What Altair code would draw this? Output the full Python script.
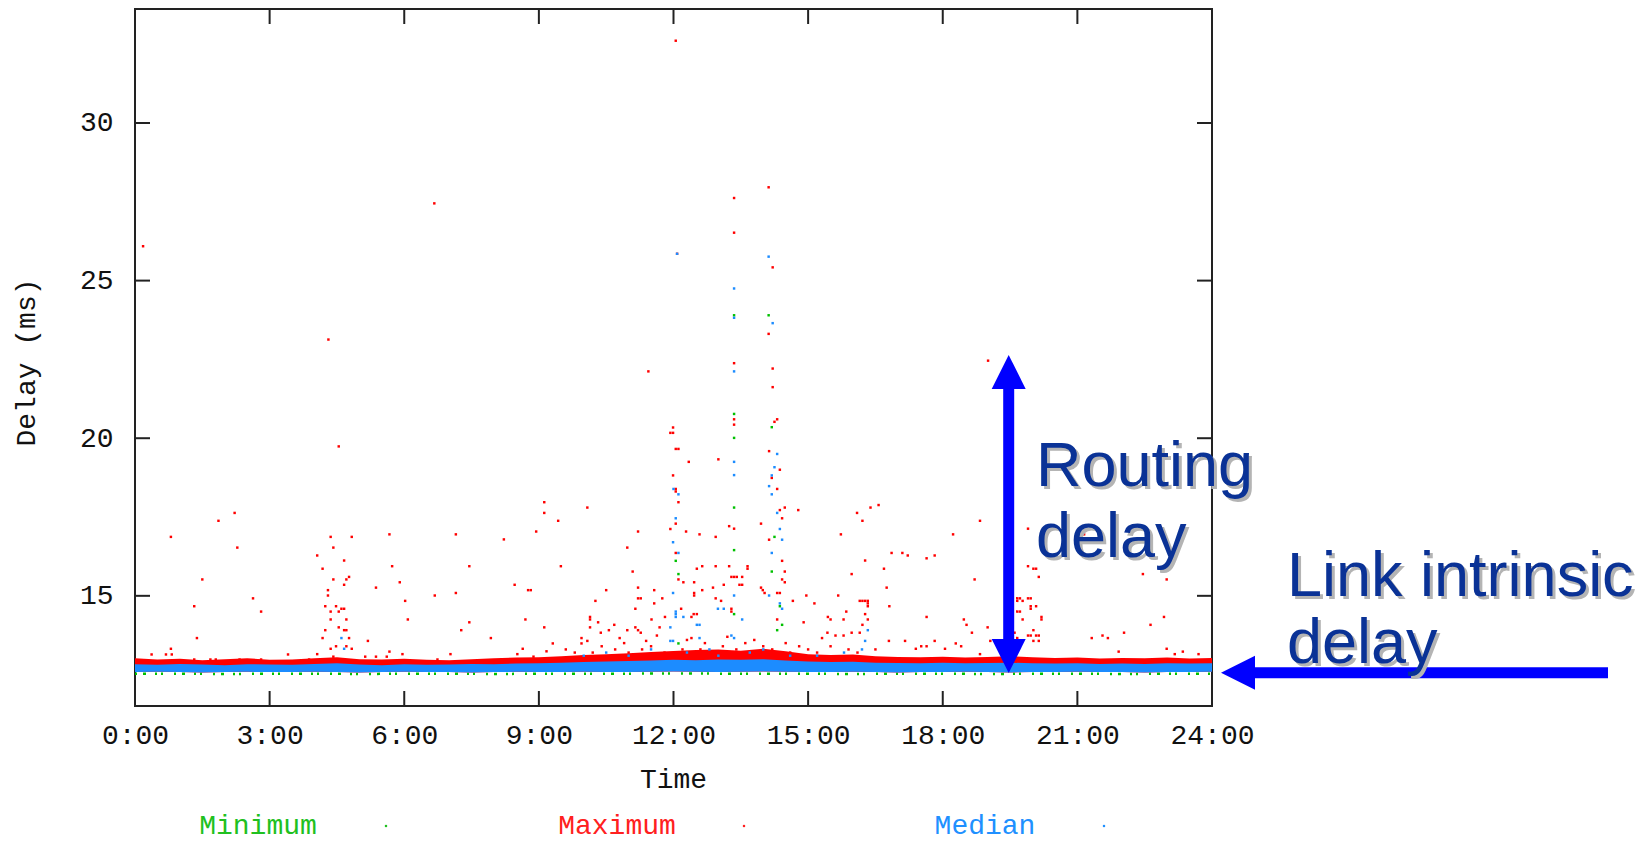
import altair as alt
import pandas as pd

# ---------------- axis ticks / labels ----------------
x_tick_hours = [0, 3, 6, 9, 12, 15, 18, 21, 24]
x_inner_ticks = [3, 6, 9, 12, 15, 18, 21]
y_tick_values = [15, 20, 25, 30]

# ---------------- dense baseline band (read every 30 min) ----------------
band_hours = [0.0, 0.5, 1.0, 1.5, 2.0, 2.5, 3.0, 3.5, 4.0, 4.5, 5.0, 5.5, 6.0, 6.5,
              7.0, 7.5, 8.0, 8.5, 9.0, 9.5, 10.0, 10.5, 11.0, 11.5, 12.0, 12.5,
              13.0, 13.5, 14.0, 14.5, 15.0, 15.5, 16.0, 16.5, 17.0, 17.5, 18.0,
              18.5, 19.0, 19.5, 20.0, 20.5, 21.0, 21.5, 22.0, 22.5, 23.0, 23.5, 24.0]
max_band_top = [13.02, 12.98, 13.00, 12.96, 12.99, 13.02, 12.97, 12.98, 13.02, 13.05,
                12.99, 12.98, 13.00, 12.97, 12.96, 12.99, 13.02, 13.04, 13.05, 13.08,
                13.12, 13.15, 13.18, 13.22, 13.25, 13.28, 13.30, 13.26, 13.32, 13.24,
                13.15, 13.12, 13.14, 13.08, 13.06, 13.05, 13.07, 13.04, 13.06, 13.08,
                13.05, 13.03, 13.04, 13.01, 13.03, 13.02, 13.04, 13.01, 13.03]
median_band_top = [12.83, 12.81, 12.84, 12.82, 12.80, 12.83, 12.82, 12.81, 12.84, 12.86,
                   12.82, 12.80, 12.83, 12.81, 12.82, 12.84, 12.83, 12.85, 12.86, 12.88,
                   12.90, 12.92, 12.93, 12.95, 12.97, 12.96, 12.98, 12.97, 12.99, 12.95,
                   12.92, 12.90, 12.91, 12.88, 12.87, 12.86, 12.88, 12.86, 12.87, 12.88,
                   12.86, 12.85, 12.86, 12.84, 12.85, 12.84, 12.86, 12.85, 12.86]
median_band_bottom = [12.58, 12.59, 12.58, 12.57, 12.58, 12.59, 12.58, 12.58, 12.59, 12.58,
                      12.57, 12.58, 12.59, 12.58, 12.58, 12.57, 12.58, 12.59, 12.58, 12.58,
                      12.59, 12.58, 12.58, 12.59, 12.60, 12.59, 12.58, 12.59, 12.60, 12.59,
                      12.58, 12.58, 12.59, 12.58, 12.57, 12.58, 12.58, 12.59, 12.58, 12.57,
                      12.58, 12.58, 12.59, 12.58, 12.58, 12.57, 12.58, 12.58, 12.59]
min_line_hours = [0, 1, 2, 3, 4, 5, 6, 7, 8, 9, 10, 11, 12, 13, 14, 15, 16, 17, 18,
                  19, 20, 21, 22, 23, 24]
min_line_delay = [12.53, 12.53, 12.52, 12.53, 12.53, 12.52, 12.53, 12.53, 12.52, 12.53,
                  12.53, 12.53, 12.54, 12.53, 12.53, 12.53, 12.52, 12.53, 12.53, 12.52,
                  12.53, 12.53, 12.52, 12.53, 12.53]

# ---------------- scattered maximum samples (hour, ms) ----------------
max_points_night = [
    (0.18, 26.09), (0.80, 16.87), (0.37, 13.14), (0.80, 13.32), (0.69, 13.14), (0.82, 13.14),
    (1.32, 14.67), (1.38, 13.66), (1.50, 15.52), (1.86, 17.38), (2.22, 17.63), (2.28, 16.53),
    (2.63, 14.92), (2.81, 14.50), (1.32, 12.98), (1.68, 12.98), (1.80, 12.98), (2.33, 12.98),
    (2.81, 12.98), (3.41, 13.14), (3.88, 12.98),
]
max_points_morning = [
    (4.31, 23.13), (4.54, 19.74), (4.36, 16.87), (4.42, 16.53), (4.83, 16.87), (4.06, 16.28),
    (4.18, 15.86), (4.42, 15.52), (4.66, 16.12), (4.71, 15.52), (4.77, 15.60), (4.66, 15.35),
    (4.30, 15.18), (4.30, 15.01), (4.24, 14.67), (4.48, 14.67), (4.36, 14.50), (4.54, 14.50),
    (4.60, 14.59), (4.66, 14.59), (4.36, 14.25), (4.71, 14.25), (4.24, 13.91), (4.54, 14.00),
    (4.66, 13.91), (4.71, 13.91), (4.18, 13.66), (4.77, 13.66), (4.36, 13.32), (4.48, 13.40),
    (4.71, 13.40), (4.83, 13.32), (4.06, 13.15), (4.42, 13.07), (5.19, 13.57), (5.37, 15.26),
    (5.67, 16.95), (5.73, 15.94), (5.90, 15.43), (6.02, 14.84), (6.08, 14.25), (5.67, 13.23),
    (5.96, 13.15), (5.13, 13.07), (5.37, 13.07), (5.61, 13.07), (6.67, 27.45), (6.68, 15.01),
    (6.74, 12.98), (7.15, 16.95), (7.15, 15.09), (7.45, 15.94), (7.45, 14.16), (7.27, 13.91),
    (7.03, 13.15), (7.93, 13.66), (8.22, 16.79), (8.46, 15.35), (8.70, 14.25), (8.76, 15.18),
    (8.82, 15.18), (8.64, 13.32), (8.94, 17.04), (9.12, 17.97), (9.12, 17.63), (9.12, 14.00),
    (8.16, 12.98), (8.52, 13.15), (8.88, 13.07), (9.17, 13.24),
]
max_points_midday = [
    (10.08, 17.80), (9.43, 17.38), (9.49, 15.94), (10.26, 14.84), (10.50, 15.18), (10.14, 14.25),
    (10.14, 14.33), (10.14, 14.00), (9.95, 13.66), (10.08, 13.57), (9.95, 13.49), (9.31, 13.49),
    (10.32, 14.16), (10.38, 13.83), (10.56, 13.91), (10.68, 14.08), (10.80, 13.66), (10.97, 16.53),
    (11.09, 15.77), (11.21, 17.04), (11.21, 15.26), (11.21, 14.92), (11.27, 14.92), (11.15, 14.59),
    (11.15, 14.00), (10.97, 13.91), (11.21, 13.91), (11.27, 13.83), (11.57, 15.18), (11.57, 14.76),
    (11.51, 14.25), (11.69, 14.00), (11.75, 14.92), (11.81, 14.33), (11.63, 13.74), (11.39, 13.57),
    (11.44, 22.12), (12.05, 32.61), (12.08, 25.85), (11.93, 20.17), (11.99, 20.17), (11.99, 20.34),
    (12.05, 19.66), (12.11, 19.66), (11.99, 18.82), (12.05, 18.39), (12.05, 18.31), (12.11, 17.97),
    (12.05, 17.29), (11.93, 17.12), (12.05, 16.36), (12.11, 15.52), (12.22, 15.43), (12.17, 14.59),
    (12.34, 19.25), (12.28, 17.04), (12.46, 15.43), (12.46, 15.09), (12.46, 15.01), (12.52, 15.86),
    (12.64, 15.94), (12.58, 16.95), (12.64, 15.18), (12.45, 14.42), (12.40, 14.33), (12.52, 14.42),
    (12.40, 13.66), (13.00, 19.33), (12.94, 16.87), (12.94, 15.94), (12.88, 15.26), (12.94, 14.92),
    (13.06, 14.84), (13.12, 15.35), (13.24, 17.21), (13.24, 15.94), (13.35, 27.62), (13.35, 26.52),
    (13.35, 22.38), (13.35, 20.60), (13.35, 20.43), (13.35, 17.13), (13.29, 15.60), (13.35, 15.60),
    (13.41, 15.60), (13.29, 14.59), (13.29, 14.50), (13.47, 15.35), (13.53, 15.35), (13.53, 15.60),
    (13.65, 15.94), (13.65, 15.86), (13.95, 17.29), (13.95, 15.26), (13.99, 15.18), (14.03, 15.09),
    (14.12, 27.96), (14.21, 25.42), (14.12, 23.31), (14.21, 22.21), (14.21, 21.62), (14.31, 20.60),
    (14.25, 20.52), (14.13, 19.59), (14.37, 19.00), (14.19, 18.74), (14.31, 18.39), (14.37, 17.72),
    (14.48, 17.80), (14.78, 17.72), (14.42, 17.46), (14.13, 16.78), (14.42, 16.11), (14.48, 15.77),
    (14.42, 15.52), (14.48, 15.43), (14.37, 15.09), (14.31, 15.09), (14.66, 14.84), (14.96, 15.01),
    (15.14, 14.76), (14.90, 14.16), (14.31, 14.25), (15.44, 14.33), (15.50, 14.25), (15.67, 15.01),
    (15.73, 16.95), (15.79, 14.25), (15.85, 14.50), (15.97, 15.69),
    (9.60, 13.30), (9.80, 13.20), (10.20, 13.20), (10.40, 13.40), (10.70, 13.30), (10.90, 13.50),
    (11.00, 13.20), (11.30, 13.30), (11.50, 13.40), (11.80, 13.20), (12.20, 13.30), (12.30, 13.60),
    (12.60, 13.30), (12.70, 13.50), (12.80, 13.20), (13.10, 13.40), (13.20, 13.70), (13.40, 13.30),
    (13.60, 13.50), (13.70, 13.20), (13.80, 13.60), (14.00, 13.40), (14.20, 13.30), (14.50, 13.50),
    (14.60, 13.20), (14.80, 13.40), (15.00, 13.30), (15.20, 13.20), (15.50, 13.40), (15.90, 13.30),
]
max_points_evening = [
    (16.09, 17.63), (16.21, 17.38), (16.39, 17.80), (16.57, 17.88), (16.27, 16.12), (16.15, 14.84),
    (16.21, 14.84), (16.27, 14.84), (16.33, 14.84), (16.33, 14.76), (16.33, 14.67), (16.27, 14.42),
    (16.33, 14.25), (16.21, 14.08), (16.15, 13.83), (15.97, 13.83), (15.79, 13.74), (15.61, 13.74),
    (15.43, 13.83), (15.31, 13.66), (16.10, 13.20), (16.50, 13.30),
    (16.69, 15.86), (16.75, 15.26), (16.81, 14.67), (16.86, 16.36), (17.10, 16.36), (17.22, 16.28),
    (17.64, 16.19), (17.82, 16.28), (18.23, 16.95), (18.83, 17.38), (18.71, 15.52), (17.64, 14.33),
    (18.47, 14.25), (18.53, 14.08), (19.00, 14.00), (18.65, 13.83), (19.01, 22.46), (19.90, 17.13),
    (19.90, 15.94), (20.02, 15.86), (20.08, 15.86), (20.14, 15.60), (19.66, 14.92), (19.72, 14.92),
    (19.90, 14.92), (19.96, 14.92), (19.66, 14.84), (19.78, 14.84), (20.08, 14.67), (19.96, 14.67),
    (19.96, 14.59), (19.66, 14.50), (19.72, 14.50), (19.78, 14.25), (20.20, 14.33), (20.20, 14.25),
    (20.02, 13.91), (19.96, 13.74), (20.08, 13.74), (20.14, 13.74), (20.14, 13.57), (20.02, 13.57),
    (19.90, 13.74), (19.60, 13.83), (19.66, 13.66), (21.15, 16.95), (22.46, 15.69), (22.99, 15.52),
    (22.93, 14.33), (22.63, 14.08), (22.04, 13.83), (21.32, 13.66), (21.56, 13.74), (21.68, 13.66),
    (16.80, 13.57), (17.16, 13.57), (17.52, 13.40), (17.82, 13.57), (17.64, 13.40), (18.29, 13.49),
    (18.41, 13.40), (19.06, 13.57), (21.92, 13.23), (22.99, 13.32), (23.17, 13.15), (23.35, 13.23),
    (23.70, 13.15), (17.40, 13.32), (18.05, 13.32), (18.83, 13.15),
]

# ---------------- scattered median samples ----------------
median_points = [
    (12.08, 25.85), (13.35, 24.75), (13.35, 23.82), (14.12, 25.76), (14.21, 23.65), (13.35, 22.12),
    (13.35, 19.25), (13.35, 18.83), (14.31, 19.50), (14.25, 19.08), (14.19, 18.82), (14.13, 18.48),
    (14.19, 18.22), (14.31, 17.63), (14.37, 17.12), (14.42, 16.78), (14.19, 16.36), (12.00, 18.39),
    (12.11, 18.22), (12.05, 17.46), (11.99, 16.70), (12.11, 16.36), (11.99, 15.09), (12.05, 14.50),
    (12.05, 14.42), (12.05, 14.33), (12.22, 14.33), (11.93, 14.00), (11.93, 13.57), (11.99, 13.57),
    (12.52, 14.08), (12.58, 14.08), (12.58, 13.66), (12.99, 14.59), (13.12, 14.59), (13.35, 15.01),
    (13.53, 14.25), (13.29, 13.74), (13.35, 13.66), (14.13, 15.01), (14.37, 14.76), (14.42, 14.59),
    (4.60, 13.66), (4.66, 13.32), (16.33, 13.91), (16.27, 13.57),
    (10.00, 13.10), (10.50, 13.20), (11.00, 13.10), (11.50, 13.30), (12.30, 13.20), (12.80, 13.30),
    (13.00, 13.10), (13.70, 13.20), (14.00, 13.30), (14.60, 13.10), (15.20, 13.10), (15.80, 13.20),
    (16.20, 13.30),
]

# ---------------- scattered minimum samples ----------------
minimum_points = [
    (13.35, 23.90), (14.12, 23.90), (13.35, 20.77), (14.19, 20.35), (13.35, 20.01), (13.35, 17.80),
    (13.35, 16.45), (13.35, 14.42), (14.25, 16.87), (14.19, 15.77), (14.37, 14.67), (14.42, 14.08),
    (14.31, 13.91), (12.05, 16.11), (12.11, 15.69), (12.11, 13.49),
]

# ---------------- text ----------------
legend_labels = ["Minimum", "Maximum", "Median"]
annotation_lines = ["Routing", "delay", "Link intrinsic", "delay"]

# ---------------- styles ----------------
W, H = 1077, 697
MONO = "Liberation Mono"
SANS = "Liberation Sans"
RED, BLUE, GREEN = "#FF0000", "#1C8CFF", "#00C000"
FRAME = "#222222"
ARROW = "#0000FF"
ANN = "#0A3296"
SHADOW = "#B4B4B4"

xscale = alt.Scale(domain=[0, 24], nice=False, zero=False)
yscale = alt.Scale(domain=[11.505, 33.616], nice=False, zero=False)
xaxis = alt.Axis(values=x_tick_hours,
                 labelExpr="(datum.value < 10 ? '\u00a0' : '') + datum.value + ':00'",
                 title="Time", ticks=False, tickSize=0, domain=False, grid=False,
                 labelFont=MONO, labelFontSize=28, labelColor="#111111", labelPadding=15,
                 labelFlush=False, labelOverlap=False,
                 titleFont=MONO, titleFontSize=28, titleFontWeight="normal", titleColor="#111111",
                 titleX=538, titleY=81, titleAlign="center", titleBaseline="alphabetic")
yaxis = alt.Axis(values=y_tick_values, title="Delay (ms)", ticks=False, tickSize=0,
                 domain=False, grid=False, labelFont=MONO, labelFontSize=28,
                 labelColor="#111111", labelPadding=22, labelOverlap=False,
                 titleFont=MONO, titleFontSize=28, titleFontWeight="normal", titleColor="#111111",
                 titleAngle=270, titleX=-109, titleY=353, titleAlign="center",
                 titleBaseline="middle")


def X(field="t"):
    return alt.X(f"{field}:Q", scale=xscale, axis=xaxis)


def Y(field="v"):
    return alt.Y(f"{field}:Q", scale=yscale, axis=yaxis)


def pts(pairs):
    return pd.DataFrame(pairs, columns=["t", "v"])


band = pd.DataFrame({"t": band_hours, "vmax": max_band_top,
                     "vmed": median_band_top, "vlo": median_band_bottom})
min_line = pd.DataFrame({"t": min_line_hours, "v": min_line_delay})

layers = []

# minimum (drawn first, like the original)
layers.append(alt.Chart(min_line).mark_line(color=GREEN, strokeWidth=2.5,
                                            strokeDash=[2, 6, 3, 9, 2, 4, 2, 11])
              .encode(x=X(), y=Y()))
layers.append(alt.Chart(pts(minimum_points)).mark_square(size=6, color=GREEN, opacity=1)
              .encode(x=X(), y=Y()))

# maximum
layers.append(alt.Chart(band).mark_area(color=RED, opacity=1)
              .encode(x=X(), y=alt.Y("vmax:Q", scale=yscale, axis=yaxis), y2="vlo:Q"))
for group in (max_points_night, max_points_morning, max_points_midday, max_points_evening):
    layers.append(alt.Chart(pts(group)).mark_square(size=6, color=RED, opacity=1)
                  .encode(x=X(), y=Y()))

# median
layers.append(alt.Chart(band).mark_area(color=BLUE, opacity=1)
              .encode(x=X(), y=alt.Y("vmed:Q", scale=yscale, axis=yaxis), y2="vlo:Q"))
layers.append(alt.Chart(pts(median_points)).mark_square(size=6, color=BLUE, opacity=1)
              .encode(x=X(), y=Y()))

# inward tick marks on all four sides
xt = pd.DataFrame({"t": x_inner_ticks})
yt = pd.DataFrame({"v": y_tick_values})
layers.append(alt.Chart(xt).mark_rule(color=FRAME, strokeWidth=2)
              .encode(x=X(), y=alt.value(H), y2=alt.value(H - 15)))
layers.append(alt.Chart(xt).mark_rule(color=FRAME, strokeWidth=2)
              .encode(x=X(), y=alt.value(0), y2=alt.value(15)))
layers.append(alt.Chart(yt).mark_rule(color=FRAME, strokeWidth=2)
              .encode(y=Y(), x=alt.value(0), x2=alt.value(15)))
layers.append(alt.Chart(yt).mark_rule(color=FRAME, strokeWidth=2)
              .encode(y=Y(), x=alt.value(W), x2=alt.value(W - 15)))

# legend (gnuplot style, below the plot)
legend_colors = ["#20C020", "#FF2020", "#2090FF"]
legend_text_x = [123, 482, 850]
legend_dot_x = [251, 609, 969]
for lab, col, tx, dx in zip(legend_labels, legend_colors, legend_text_x, legend_dot_x):
    d = pd.DataFrame({"label": [lab]})
    layers.append(alt.Chart(d).mark_text(font=MONO, fontSize=28, color=col, align="center",
                                         baseline="alphabetic")
                  .encode(x=alt.value(tx), y=alt.value(825), text="label:N"))
    layers.append(alt.Chart(d).mark_square(size=5, color=col, opacity=1)
                  .encode(x=alt.value(dx), y=alt.value(817)))

# annotation arrows
one = pd.DataFrame({"label": ["arrow"]})
UP = "M0,-1L1,1L-1,1Z"
DOWN = "M0,1L1,-1L-1,-1Z"
LEFT = "M-1,0L1,-1L1,1Z"
AX = 873.7
layers.append(alt.Chart(one).mark_rule(color=ARROW, strokeWidth=11)
              .encode(x=alt.value(AX), y=alt.value(378), y2=alt.value(631)))
layers.append(alt.Chart(one).mark_point(shape=UP, filled=True, size=1156, color=ARROW,
                                        opacity=1, strokeWidth=0)
              .encode(x=alt.value(AX), y=alt.value(363)))
layers.append(alt.Chart(one).mark_point(shape=DOWN, filled=True, size=1156, color=ARROW,
                                        opacity=1, strokeWidth=0)
              .encode(x=alt.value(AX), y=alt.value(647)))
layers.append(alt.Chart(one).mark_rule(color=ARROW, strokeWidth=11)
              .encode(x=alt.value(1119), x2=alt.value(1473), y=alt.value(663.7)))
layers.append(alt.Chart(one).mark_point(shape=LEFT, filled=True, size=1156, color=ARROW,
                                        opacity=1, strokeWidth=0)
              .encode(x=alt.value(1103), y=alt.value(663.7)))

# annotation text with drop shadow
ann_pos = [(901, 477), (901, 548), (1152, 587), (1152, 654)]
for txt, (ax, ay) in zip(annotation_lines, ann_pos):
    d = pd.DataFrame({"label": [txt]})
    layers.append(alt.Chart(d).mark_text(font=SANS, fontSize=63, color=SHADOW, align="left",
                                         baseline="alphabetic")
                  .encode(x=alt.value(ax + 3), y=alt.value(ay + 3), text="label:N"))
    layers.append(alt.Chart(d).mark_text(font=SANS, fontSize=63, color=ANN, align="left",
                                         baseline="alphabetic")
                  .encode(x=alt.value(ax), y=alt.value(ay), text="label:N"))

chart = (alt.layer(*layers)
         .properties(width=W, height=H,
                     padding={"left": 127, "top": 1, "right": 425, "bottom": 137},
                     autosize=alt.AutoSizeParams(type="none"),
                     background="white")
         .configure_view(stroke=FRAME, strokeWidth=2))

chart.save("out.html", embed_options={"renderer": "svg", "actions": False})
